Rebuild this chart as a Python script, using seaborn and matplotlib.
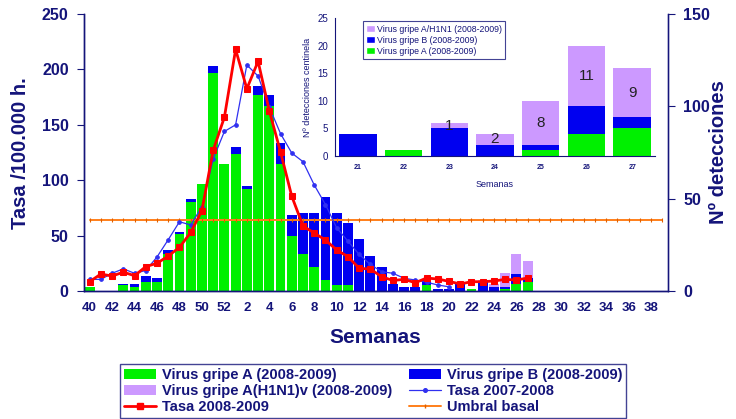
import numpy as np
import pandas as pd
import matplotlib
matplotlib.use("Agg")
import matplotlib.pyplot as plt
import seaborn as sns
from matplotlib.patches import Patch
from matplotlib.lines import Line2D

# ---------------- data ----------------
weeks = [str(w) for w in list(range(40, 53)) + list(range(1, 40))]

virus_a = [2, 0, 0, 3, 2, 5, 5, 20, 31, 48, 58, 118, 69,
           74, 55, 106, 100, 69, 30, 20, 13, 6, 3, 3, 0, 0, 0, 0, 0, 0, 3, 0, 0, 0, 1, 0, 0, 1, 4, 5,
           0, 0, 0, 0, 0, 0, 0, 0, 0, 0, 0, 0]
virus_b = [0, 0, 0, 1, 2, 3, 2, 2, 1, 2, 0, 4, 0,
           4, 2, 5, 6, 11, 11, 22, 29, 45, 39, 34, 28, 19, 13, 4, 2, 2, 3, 1, 1, 4, 0, 5, 2, 1, 5, 2,
           0, 0, 0, 0, 0, 0, 0, 0, 0, 0, 0, 0]
virus_h1n1 = [0] * 35 + [1, 2, 8, 11, 9] + [0] * 12

# Tasa 2008-2009 (weeks 40 .. 27)
tasa_0809 = [8.4, 15.3, 13.5, 17, 13.8, 22, 25, 31.6, 39.4, 52.8, 72.5, 127, 156.8,
             218, 182.5, 207.3, 162.6, 125.5, 85.5, 58.7, 52.3, 46, 37, 31, 20.5, 19.8, 12.9,
             9.5, 10.5, 7.5, 11.7, 10.8, 8.7, 6.3, 8.4, 8.4, 9, 10.5, 9.9, 11.7]
# Tasa 2007-2008 (weeks 40 .. 20)
tasa_0708 = [10.5, 10.5, 16, 20, 16, 18.5, 30.7, 46.3, 62.5, 59.6, 76, 119, 144,
             150, 204, 194, 166, 142, 124.5, 116.7, 95.7, 78, 57, 45, 33, 24, 17.4,
             16, 11.5, 9.9, 8, 5.4, 3.8]
umbral = [64.5] * len(weeks)

inset_weeks = ['21', '22', '23', '24', '25', '26', '27']
inset_a = [0, 1, 0, 0, 1, 4, 5]
inset_b = [4, 0, 5, 2, 1, 5, 2]
inset_h = [0, 0, 1, 2, 8, 11, 9]

# ---------------- style ----------------
sns.set_theme(style="white")
plt.rcParams['font.family'] = ['Liberation Sans', 'DejaVu Sans']

NAVY = '#14147a'
GREEN = '#00F000'
BLUE = '#0000F0'
PURPLE = '#CC99FF'
RED = '#FF0000'
BLUE_LINE = '#3030F0'
ORANGE = '#FF7F1A'

fig = plt.figure(figsize=(7.36, 4.19), dpi=100)
fig.patch.set_facecolor('white')
ax = fig.add_axes([84/736, 1-291/419, 584/736, 277/419])

df = pd.DataFrame({'week': weeks, 'A': virus_a, 'B': virus_b, 'H': virus_h1n1})
df['AB'] = df['A'] + df['B']
df['ABH'] = df['AB'] + df['H']

for col, c in [('ABH', PURPLE), ('AB', BLUE), ('A', GREEN)]:
    sns.barplot(data=df, x='week', y=col, order=weeks, color=c, saturation=1,
                width=0.88, linewidth=0, ax=ax)

ax2 = ax.twinx()
ax.yaxis.tick_right()
ax.yaxis.set_label_position('right')
ax2.yaxis.tick_left()
ax2.yaxis.set_label_position('left')

pos = np.arange(len(weeks))
d_umb = pd.DataFrame({'pos': pos, 'v': umbral})
d_07 = pd.DataFrame({'pos': pos[:len(tasa_0708)], 'v': tasa_0708})
d_08 = pd.DataFrame({'pos': pos[:len(tasa_0809)], 'v': tasa_0809})

sns.lineplot(data=d_umb, x='pos', y='v', color=ORANGE, lw=1.4, marker='|', ms=3,
             mec='#E06000', mew=0.8, ax=ax2)
sns.lineplot(data=d_07, x='pos', y='v', color=BLUE_LINE, lw=0.9, marker='o', ms=2.6,
             mec=BLUE_LINE, ax=ax2)
sns.lineplot(data=d_08, x='pos', y='v', color=RED, lw=2.0, marker='s', ms=5,
             mec=RED, ax=ax2)

ax.set_ylim(0, 150)
ax2.set_ylim(0, 250)
ax.set_xlim(-0.5, len(weeks) - 0.5)
ax2.set_xlim(-0.5, len(weeks) - 0.5)
ax.set_xlabel('')
ax.set_ylabel('')
ax2.set_xlabel('')
ax2.set_ylabel('')

ax.set_xticks(pos[::2])
ax.set_xticklabels(weeks[::2])
ax.set_xticks(np.arange(-0.5, len(weeks), 1), minor=True)
ax.tick_params(axis='x', which='major', length=0, pad=8, labelsize=9.5, labelcolor=NAVY)
ax.tick_params(axis='x', which='minor', length=4, width=0.8, color=NAVY, direction='out')
for lab in ax.get_xticklabels():
    lab.set_fontweight('bold')

ax.set_yticks([0, 50, 100, 150])
ax.tick_params(axis='y', length=5, width=0.8, color=NAVY, direction='out', labelsize=11.5,
               labelcolor=NAVY, pad=6)
ax2.set_yticks([0, 50, 100, 150, 200, 250])
ax2.tick_params(axis='y', length=5, width=0.8, color=NAVY, direction='out', labelsize=11.5,
                labelcolor=NAVY, pad=6)
for lab in ax.get_yticklabels() + ax2.get_yticklabels():
    lab.set_fontweight('bold')

for a in (ax, ax2):
    a.spines['top'].set_visible(False)
    for s in ('left', 'right', 'bottom'):
        a.spines[s].set_color(NAVY)
        a.spines[s].set_linewidth(1.0)
ax.spines['right'].set_color('#5555aa')

fig.text(21/736, 1-153/419, 'Tasa /100.000 h.', rotation=90, ha='center', va='center',
         fontsize=14.5, fontweight='bold', color=NAVY)
fig.text(718/736, 1-152/419, 'Nº detecciones', rotation=90, ha='center', va='center',
         fontsize=14.5, fontweight='bold', color=NAVY)
fig.text(375/736, 1-337/419, 'Semanas', ha='center', va='center',
         fontsize=15, fontweight='bold', color=NAVY)

# ---------------- legend ----------------
h_a = Patch(facecolor=GREEN, edgecolor='none')
h_b = Patch(facecolor=BLUE, edgecolor='none')
h_h = Patch(facecolor=PURPLE, edgecolor='none')
h_07 = Line2D([], [], color=BLUE_LINE, lw=0.9, marker='o', ms=2.6)
h_08 = Line2D([], [], color=RED, lw=2.0, marker='s', ms=4)
h_u = Line2D([], [], color=ORANGE, lw=1.4, marker='|', ms=3, mec='#E06000')
leg = fig.legend([h_a, h_h, h_08, h_b, h_07, h_u],
                 ['Virus gripe A (2008-2009)', 'Virus gripe A(H1N1)v (2008-2009)', 'Tasa 2008-2009',
                  'Virus gripe B (2008-2009)', 'Tasa 2007-2008', 'Umbral basal'],
                 ncol=2, loc='lower left', mode='expand',
                 bbox_to_anchor=(120/736, 1/419, 506/736, 58/419),
                 prop={'weight': 'bold', 'size': 10.5}, labelcolor=NAVY,
                 frameon=True, fancybox=False, borderpad=0.25, labelspacing=0.15,
                 handlelength=2.2, handletextpad=0.4, borderaxespad=0)
leg.get_frame().set_edgecolor(NAVY)
leg.get_frame().set_linewidth(1.0)

# ---------------- inset ----------------
axi = fig.add_axes([335/736, 1-156/419, 320/736, 138/419])
axi.set_facecolor('none')
di = pd.DataFrame({'week': inset_weeks, 'A': inset_a, 'B': inset_b, 'H': inset_h})
di['AB'] = di['A'] + di['B']
di['ABH'] = di['AB'] + di['H']
for col, c in [('ABH', PURPLE), ('AB', BLUE), ('A', GREEN)]:
    sns.barplot(data=di, x='week', y=col, order=inset_weeks, color=c, saturation=1,
                width=0.82, linewidth=0, ax=axi)
axi.set_ylim(0, 25)
axi.set_xlim(-0.5, len(inset_weeks) - 0.5)
axi.set_yticks([0, 5, 10, 15, 20, 25])
axi.tick_params(axis='y', length=3, width=0.6, color=NAVY, direction='out', labelsize=7,
                labelcolor=NAVY, pad=2)
axi.tick_params(axis='x', length=0, labelsize=5, labelcolor=NAVY, pad=6)
for lab in axi.get_xticklabels():
    lab.set_fontweight('bold')
axi.set_xticks(np.arange(-0.5, len(inset_weeks), 1), minor=True)
axi.tick_params(axis='x', which='minor', length=2.5, width=0.6, color=NAVY)
axi.spines['top'].set_visible(False)
axi.spines['right'].set_visible(False)
axi.spines['left'].set_color(NAVY)
axi.spines['bottom'].set_color(NAVY)
axi.spines['left'].set_linewidth(0.8)
axi.spines['bottom'].set_linewidth(0.8)
axi.set_xlabel('Semanas', fontsize=6.5, color=NAVY, labelpad=6)
axi.set_ylabel('Nº detecciones centinela', fontsize=6.5, color=NAVY, labelpad=4)

for i, (ab, h) in enumerate(zip(di['AB'], di['H'])):
    if h > 0:
        axi.text(i, ab + h / 2, str(h), ha='center', va='center', fontsize=11, color='#222222')

li = axi.legend([Patch(facecolor=PURPLE), Patch(facecolor=BLUE), Patch(facecolor=GREEN)],
                ['Virus gripe A/H1N1 (2008-2009)', 'Virus gripe B (2008-2009)',
                 'Virus gripe A (2008-2009)'],
                loc='upper left', bbox_to_anchor=(0.087, 0.975), borderaxespad=0,
                fontsize=6.3, labelcolor=NAVY, frameon=True, fancybox=False,
                handlelength=1.0, handleheight=0.8, handletextpad=0.3, labelspacing=0.25,
                borderpad=0.35)
li.get_frame().set_edgecolor(NAVY)
li.get_frame().set_linewidth(0.8)

fig.savefig('out.png', dpi=100, facecolor='white')
